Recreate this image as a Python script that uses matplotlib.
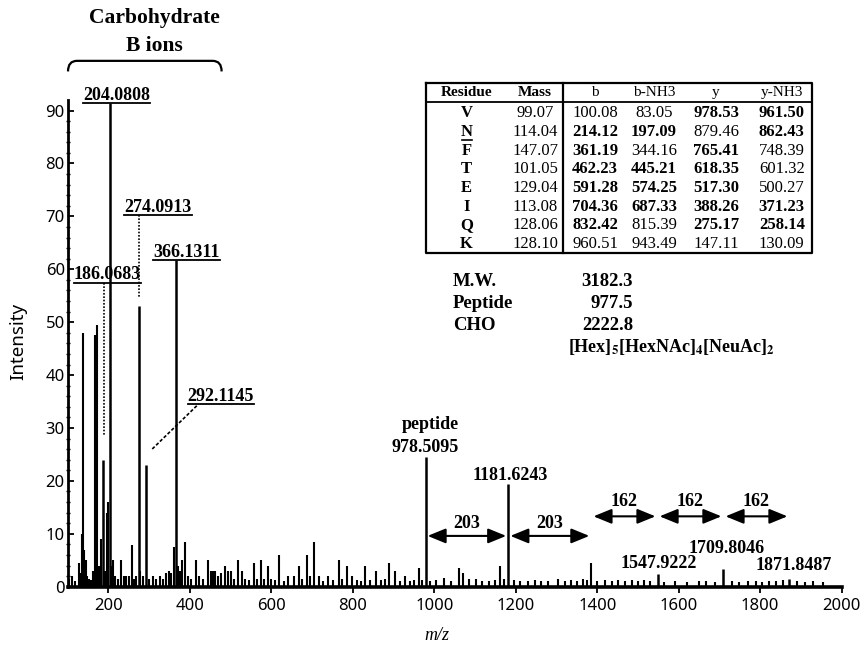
import matplotlib
matplotlib.use("Agg")
import matplotlib.pyplot as plt
from matplotlib.lines import Line2D
from matplotlib.path import Path
from matplotlib.patches import PathPatch, FancyArrowPatch

# ---------------- data ----------------
# background (unlabelled) fragment peaks: m/z and relative intensity
bg_mz = [104.0, 110.0, 118.0, 127.0, 131.0, 136.0, 138.1, 141.0, 144.0, 147.0,
         152.0, 158.0, 163.0, 168.1, 173.0, 176.0, 181.0, 191.0, 196.0, 198.1,
         207.0, 212.0, 217.0, 224.0, 232.0, 238.0, 244.0, 250.0, 257.0, 263.0,
         268.0, 278.0, 284.0, 300.0, 310.0, 318.0, 327.0, 335.0, 342.0, 348.0,
         355.0, 361.2, 371.0, 377.0, 382.0, 388.3, 395.0, 402.0, 415.0, 423.0,
         433.0, 445.2, 451.0, 457.0, 462.2, 470.0, 476.0, 487.0, 494.0, 500.3,
         508.0, 517.3, 527.0, 535.0, 545.0, 557.0, 565.0, 574.3, 582.0, 591.3,
         600.0, 608.0, 618.4, 630.0, 642.0, 655.0, 667.0, 675.0, 687.3, 694.0,
         704.4, 716.0, 728.0, 740.0, 752.0, 765.4, 773.0, 785.0, 797.0, 810.0,
         820.0, 830.0, 842.0, 858.0, 870.0, 879.5, 888.0, 904.0, 915.0, 928.0,
         940.0, 950.0, 961.5, 970.0, 990.0, 1005.0, 1023.0, 1040.0, 1061.0, 1070.0,
         1086.0, 1102.0, 1118.0, 1135.0, 1150.0, 1162.0, 1170.0, 1195.0, 1210.0, 1230.0,
         1248.0, 1262.0, 1280.0, 1303.0, 1320.0, 1335.0, 1350.0, 1364.0, 1374.0, 1385.7,
         1400.0, 1418.0, 1435.0, 1450.0, 1468.0, 1485.0, 1500.0, 1515.0, 1530.0, 1565.0,
         1590.0, 1620.0, 1650.0, 1668.0, 1690.0, 1730.0, 1748.0, 1770.0, 1790.0, 1805.0,
         1822.0, 1838.0, 1855.0, 1890.0, 1910.0, 1930.0, 1955.0]
bg_int = [1.5, 2.0, 1.0, 4.5, 2.5, 10.0, 48.0, 7.0, 5.0, 2.0,
          1.5, 1.2, 3.0, 47.5, 49.5, 4.0, 9.0, 3.0, 14.0, 16.0,
          4.0, 5.0, 2.0, 1.5, 5.0, 2.0, 2.0, 2.0, 7.8, 1.5,
          2.0, 3.0, 2.0, 1.5, 2.0, 1.5, 2.0, 1.5, 2.5, 3.0,
          2.5, 7.5, 4.0, 3.0, 5.0, 8.5, 2.0, 1.5, 5.0, 2.0,
          1.5, 5.0, 3.0, 3.0, 3.0, 2.0, 2.5, 4.0, 3.0, 3.0,
          1.5, 5.0, 3.0, 1.5, 1.2, 4.5, 1.5, 5.0, 1.5, 4.0,
          1.5, 1.2, 6.0, 1.0, 2.0, 2.0, 4.0, 1.5, 6.0, 2.0,
          8.5, 2.0, 1.0, 2.0, 1.2, 5.0, 1.5, 4.0, 2.0, 1.2,
          1.0, 4.0, 1.2, 3.0, 1.2, 1.5, 4.5, 3.0, 1.0, 2.0,
          1.0, 1.2, 3.5, 1.2, 1.0, 1.2, 1.6, 1.0, 3.5, 2.5,
          1.5, 1.5, 1.0, 1.0, 1.2, 4.0, 1.5, 1.2, 1.0, 1.0,
          1.2, 1.0, 1.0, 1.5, 1.0, 1.2, 1.0, 1.5, 1.2, 4.5,
          1.0, 1.2, 1.0, 1.2, 1.0, 1.2, 1.0, 1.2, 1.0, 0.8,
          1.0, 0.8, 1.0, 1.0, 0.8, 1.0, 0.8, 1.0, 1.0, 0.8,
          1.0, 1.0, 1.2, 1.0, 0.8, 1.0, 0.8]

# carbohydrate oxonium (B) ions
carb_mz = [186.0683, 204.0808, 274.0913, 292.1145, 366.1311]
carb_int = [24.0, 91.5, 53.0, 23.0, 61.8]

# peptide / glycopeptide Y ions
pep_mz = [978.5095, 1181.6243, 1547.9222, 1709.8046, 1871.8487]
pep_int = [24.6, 19.5, 2.4, 3.3, 1.4]

# mass ladder between Y ions
ladder_mz = [978.5095, 1181.6243, 1385.7, 1547.9222, 1709.8046, 1871.8487]
ladder_steps = ["203", "203", "162", "162", "162"]

x_ticks = [200, 400, 600, 800, 1000, 1200, 1400, 1600, 1800, 2000]
y_ticks = [0, 10, 20, 30, 40, 50, 60, 70, 80, 90]

# fragment table
table_headers = ["Residue", "Mass", "b", "b-NH3", "y", "y-NH3"]
residues = ["V", "N", "F", "T", "E", "I", "Q", "K"]
residue_mass = [99.07, 114.04, 147.07, 101.05, 129.04, 113.08, 128.06, 128.10]
b_ions = [100.08, 214.12, 361.19, 462.23, 591.28, 704.36, 832.42, 960.51]
b_nh3 = [83.05, 197.09, 344.16, 445.21, 574.25, 687.33, 815.39, 943.49]
y_ions = [978.53, 879.46, 765.41, 618.35, 517.30, 388.26, 275.17, 147.11]
y_nh3 = [961.50, 862.43, 748.39, 601.32, 500.27, 371.23, 258.14, 130.09]
# ions observed in the spectrum (printed in bold)
b_seen = [0, 1, 1, 1, 1, 1, 1, 0]
b_nh3_seen = [0, 1, 0, 1, 1, 1, 0, 0]
y_seen = [1, 0, 1, 1, 1, 1, 1, 0]
y_nh3_seen = [1, 1, 0, 0, 0, 1, 1, 0]
glyco_site = "N"

summary_labels = ["M.W.", "Peptide", "CHO"]
summary_values = [3182.3, 977.5, 2222.8]
glycan = r"[Hex]$_{\mathbf{5}}$[HexNAc]$_{\mathbf{4}}$[NeuAc]$_{\mathbf{2}}$"

# ---------------- figure ----------------
W, H = 860, 651
SERIF = "Liberation Serif"
SANS = "Noto Sans"
plt.rcParams["mathtext.fontset"] = "stix"

fig = plt.figure(figsize=(W / 100, H / 100), dpi=100)
fig.patch.set_facecolor("white")


def fx(px):
    return px / W


def fy(py):
    return 1 - py / H


ax = fig.add_axes([fx(67.6), fy(586.7), (841.7 - 67.6) / W, (586.7 - 100) / H])
ax.set_xlim(100, 2000)
ax.set_ylim(0, 92)

ax.vlines(bg_mz, 0, bg_int, color="black", lw=1.5, clip_on=False)
ax.vlines(carb_mz, 0, carb_int, color="black", lw=1.8, clip_on=False)
ax.vlines(pep_mz, 0, pep_int, color="black", lw=1.8, clip_on=False)

for s in ("top", "right"):
    ax.spines[s].set_visible(False)
ax.spines["left"].set_linewidth(2.0)
ax.spines["bottom"].set_linewidth(2.6)

ax.set_xticks(x_ticks)
ax.set_yticks(y_ticks)
ax.set_yticks(list(range(0, 92, 2)), minor=True)
ax.tick_params(axis="x", direction="out", length=4, width=1.3, pad=4,
               labelsize=12)
ax.tick_params(axis="y", which="major", direction="in", length=4, width=1.3,
               pad=2, labelsize=12)
ax.tick_params(axis="y", which="minor", direction="inout", length=2.5, width=1)
for lab in ax.get_xticklabels() + ax.get_yticklabels():
    lab.set_fontfamily(SANS)

fig.text(fx(18), fy(341), "Intensity", rotation=90, ha="center", va="center",
         fontsize=13.5, family=SANS)
fig.text(fx(437), fy(636), "m/z", ha="center", va="center", fontsize=13,
         family=SERIF, style="italic")

bold = dict(family=SERIF, weight="bold", color="black")

# carbohydrate B-ion labels (underlined)
carb_text_x = [198, 220, 322, 476, 392]
carb_line_y = [57.5, 91.5, 70.2, 34.5, 61.8]
carb_labels = []
for mz, xc, yl in zip(carb_mz, carb_text_x, carb_line_y):
    t = ax.annotate(f"{mz:.4f}", xy=(xc, yl), xytext=(0, 2.2),
                    textcoords="offset points", ha="center", va="baseline",
                    fontsize=13, annotation_clip=False, **bold)
    carb_labels.append((t, yl))

# leaders from labels to peaks
ax.plot([190, 190], [57.5, 28.5], color="black", lw=1.2, ls=(0, (1, 1)))
ax.plot([carb_mz[2], carb_mz[2]], [70.2, 54.5], color="black", lw=1.2,
        ls=(0, (1, 1)))
ax.plot([417, 306], [34.2, 25.9], color="black", lw=1.2, ls=(0, (2, 1.2)))

# bracket over the carbohydrate region
x0, x1, ytop, ytip, dx = 101, 478, 99.4, 97.4, 22
brace = Path([(x0, ytip), (x0, ytop), (x0 + dx, ytop), (x1 - dx, ytop),
              (x1, ytop), (x1, ytip)],
             [Path.MOVETO, Path.CURVE3, Path.CURVE3, Path.LINETO,
              Path.CURVE3, Path.CURVE3])
ax.add_patch(PathPatch(brace, fill=False, lw=1.6, color="black",
                       clip_on=False))
fig.text(fx(154), fy(18), "Carbohydrate", ha="center", va="center",
         fontsize=15.5, **bold)
fig.text(fx(154), fy(46), "B ions", ha="center", va="center",
         fontsize=15.5, **bold)

# peptide ion labels
ax.text(990, 30.7, "peptide", ha="center", va="center", fontsize=13, **bold)
pep_text_pos = [(978, 26.3), (1186.7, 21.0), (1552, 4.4), (1718, 7.2),
                (1882, 4.1)]
for mz, (xt, yt) in zip(pep_mz, pep_text_pos):
    ax.text(xt, yt, f"{mz:.4f}", ha="center", va="center", fontsize=13,
            **bold)

# mass-difference arrows
for i, step in enumerate(ladder_steps):
    a, b = ladder_mz[i], ladder_mz[i + 1]
    y_arrow, y_text = (9.6, 12.0) if step == "203" else (13.3, 16.1)
    ax.add_patch(FancyArrowPatch((a, y_arrow), (b, y_arrow),
                                 arrowstyle="<|-|>,head_length=1.1,head_width=0.45",
                                 mutation_scale=10, lw=1.5, color="black",
                                 shrinkA=1.5, shrinkB=1.5))
    ax.text((a + b) / 2, y_text, step, ha="center", va="center",
            fontsize=13, **bold)

# fragment table
col_x = [466.7, 535, 595, 654, 716, 781.7]
row_y0, row_dy = 113.3, 18.67
tab_left, tab_right, tab_top, tab_head, tab_bottom, tab_sep = \
    426, 811.7, 83.3, 101.7, 252.7, 563.3


def fig_line(xs, ys, lw):
    fig.add_artist(Line2D([fx(v) for v in xs], [fy(v) for v in ys],
                          color="black", lw=lw, transform=fig.transFigure))


fig_line([tab_left, tab_right, tab_right, tab_left, tab_left],
         [tab_top, tab_top, tab_bottom, tab_bottom, tab_top], 1.6)
fig_line([tab_left, tab_right], [tab_head, tab_head], 1.3)
fig_line([tab_sep, tab_sep], [tab_top, tab_bottom], 1.6)

head_bold = [True, True, False, False, False, False]
for x, h, hb in zip(col_x, table_headers, head_bold):
    fig.text(fx(x), fy(92.7), h, ha="center", va="center", fontsize=11,
             family=SERIF, weight="bold" if hb else "normal")

columns = [b_ions, b_nh3, y_ions, y_nh3]
seen = [b_seen, b_nh3_seen, y_seen, y_nh3_seen]
for r, res in enumerate(residues):
    y = row_y0 + r * row_dy
    fig.text(fx(col_x[0]), fy(y), res, ha="center", va="center",
             fontsize=12, family=SERIF, weight="bold")
    if res == glyco_site:
        fig_line([col_x[0] - 5, col_x[0] + 5], [y + 8, y + 8], 1.2)
    fig.text(fx(col_x[1]), fy(y), f"{residue_mass[r]:.2f}", ha="center",
             va="center", fontsize=12, family=SERIF)
    for c, (vals, flags) in enumerate(zip(columns, seen)):
        fig.text(fx(col_x[c + 2]), fy(y), f"{vals[r]:.2f}", ha="center",
                 va="center", fontsize=12, family=SERIF,
                 weight="bold" if flags[r] else "normal")

# molecular weight summary
for i, (lab, val) in enumerate(zip(summary_labels, summary_values)):
    y = 282 + i * 21.5
    fig.text(fx(453), fy(y), lab, ha="left", va="center", fontsize=13.5,
             **bold)
    fig.text(fx(633), fy(y), f"{val:.1f}", ha="right", va="center",
             fontsize=13.5, **bold)
fig.text(fx(568), fy(347), glycan, ha="left", va="center", fontsize=13,
         **bold)

# underline the B-ion labels using their rendered widths
fig.canvas.draw()
renderer = fig.canvas.get_renderer()
inv = ax.transData.inverted()
for t, yl in carb_labels:
    bb = t.get_window_extent(renderer)
    xl = inv.transform((bb.x0, 0))[0]
    xr = inv.transform((bb.x1, 0))[0]
    ax.plot([xl, xr], [yl, yl], color="black", lw=1.3, clip_on=False)

fig.savefig("out.png", dpi=100, facecolor="white")
